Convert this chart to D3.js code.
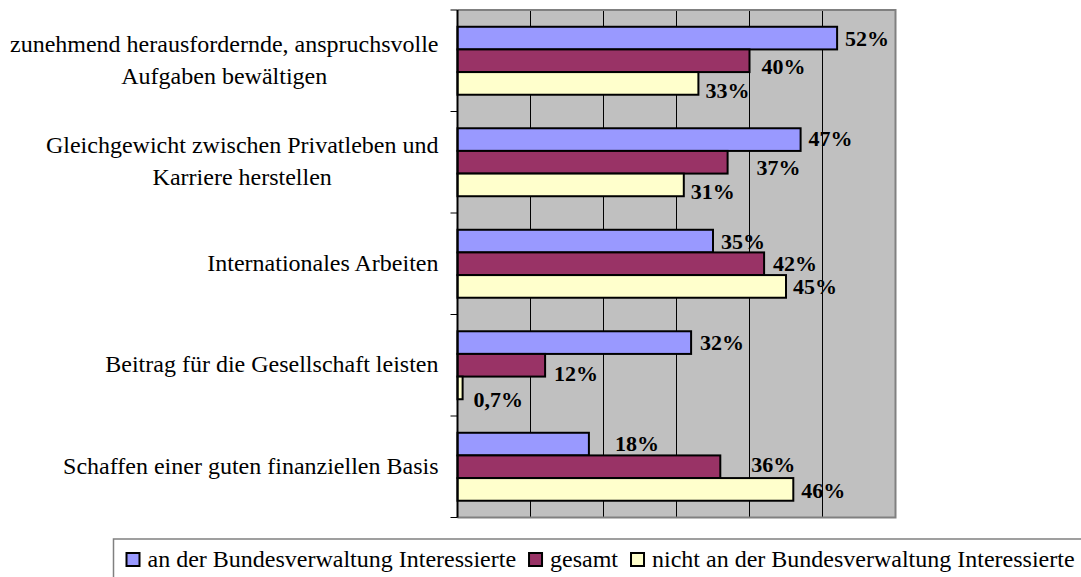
<!DOCTYPE html>
<html>
<head>
<meta charset="utf-8">
<script src="https://cdn.jsdelivr.net/npm/d3@7"></script>
<style>
  html, body { margin: 0; padding: 0; background: #ffffff; }
  svg { display: block; }
  svg text { font-family: "Liberation Serif", Tinos, "Times New Roman", Times, "DejaVu Serif", serif; }
</style>
</head>
<body>
<svg id="chart" width="1081" height="577"></svg>
<script>
// ---- data ----
const categories = [
  "zunehmend herausfordernde, anspruchsvolle\nAufgaben bewältigen",
  "Gleichgewicht zwischen Privatleben und\nKarriere herstellen",
  "Internationales Arbeiten",
  "Beitrag für die Gesellschaft leisten",
  "Schaffen einer guten finanziellen Basis"
];
const seriesNames = [
  "an der Bundesverwaltung Interessierte",
  "gesamt",
  "nicht an der Bundesverwaltung Interessierte"
];
const interessierte = [52, 47, 35, 32, 18];
const gesamt = [40, 37, 42, 12, 36];
const nichtInteressierte = [33, 31, 45, 0.7, 46];
const gridTicks = [10, 20, 30, 40, 50];

// ---- layout / style (not data) ----
const seriesColors = ["#9999FF", "#993366", "#FFFFCC"];
// label nudges [dx, dy] per category, per series (Excel label placement)
const labelNudge = [
  [[8, 0], [12, 6], [7, 7]],
  [[8, -1], [29, 5], [7, 6]],
  [[8, 0], [9, 0], [7, 0]],
  [[9, 0], [9, 8], [11, 11]],
  [[26, -1], [31, -2], [8, 1]]
];

const seriesValues = [interessierte, gesamt, nichtInteressierte];
const svg = d3.select("#chart");

const plot = { left: 457.5, right: 895.5, top: 10, bottom: 517.5 };

const x = d3.scaleLinear().domain([0, 60]).range([plot.left, plot.right]);
const y0 = d3.scaleBand().domain(d3.range(categories.length))
  .range([plot.top, plot.bottom]).paddingInner(0).paddingOuter(0);
const y1 = d3.scaleBand().domain(d3.range(seriesNames.length))
  .range([0, y0.bandwidth()]).paddingInner(0).paddingOuter(0.74);

// plot background
svg.append("rect")
  .attr("x", plot.left).attr("y", plot.top)
  .attr("width", plot.right - plot.left).attr("height", plot.bottom - plot.top)
  .attr("fill", "#C0C0C0");

// gridlines
svg.append("g").selectAll("line").data(gridTicks).join("line")
  .attr("x1", d => x(d)).attr("x2", d => x(d))
  .attr("y1", plot.top).attr("y2", plot.bottom)
  .attr("stroke", "#000").attr("stroke-width", 1);

// plot border (top, right, bottom)
svg.append("path")
  .attr("d", `M${plot.left},${plot.top}H${plot.right}V${plot.bottom}H${plot.left}`)
  .attr("fill", "none").attr("stroke", "#808080").attr("stroke-width", 2);

// bars
const fmt = d3.formatLocale({ decimal: ",", thousands: ".", grouping: [3], currency: ["", "€"] }).format(".2~r");
const groups = svg.append("g").selectAll("g").data(categories).join("g")
  .attr("transform", (d, i) => `translate(0,${y0(i)})`);

groups.each(function(c, ci) {
  const g = d3.select(this);
  const vals = seriesValues.map((s, si) => ({ si, v: s[ci] }));
  g.selectAll("rect").data(vals).join("rect")
    .attr("x", x(0))
    .attr("y", d => y1(d.si))
    .attr("width", d => x(d.v) - x(0))
    .attr("height", y1.bandwidth())
    .attr("fill", d => seriesColors[d.si])
    .attr("stroke", "#000").attr("stroke-width", 2);
  g.selectAll("text").data(vals).join("text")
    .attr("x", d => x(d.v) + labelNudge[ci][d.si][0])
    .attr("y", d => y1(d.si) + y1.bandwidth() / 2 + labelNudge[ci][d.si][1])
    .attr("dy", "0.35em")
    .attr("font-size", 22).attr("font-weight", "bold")
    .attr("fill", "#000")
    .text(d => fmt(d.v) + "%");
});

// value axis line + ticks
svg.append("line")
  .attr("x1", plot.left).attr("x2", plot.left)
  .attr("y1", plot.top).attr("y2", plot.bottom)
  .attr("stroke", "#000").attr("stroke-width", 2);
const tickYs = d3.range(categories.length).map(i => y0(i)).concat([plot.bottom]);
svg.append("g").selectAll("line").data(tickYs).join("line")
  .attr("x1", plot.left - 7).attr("x2", plot.left)
  .attr("y1", d => d).attr("y2", d => d)
  .attr("stroke", "#000").attr("stroke-width", 1);

// category labels
const labelRight = 438.5;
const lineH = 31.6;
categories.forEach((c, ci) => {
  const lines = c.split("\n");
  const cy = y0(ci) + y0.bandwidth() / 2;
  const t = svg.append("text")
    .attr("font-size", 24).attr("fill", "#000")
    .attr("text-anchor", "middle");
  const first = cy + 7 - (lines.length - 1) * lineH / 2;
  const spans = lines.map((ln, li) => t.append("tspan").attr("y", first + li * lineH).text(ln));
  const maxW = d3.max(spans, s => s.node().getComputedTextLength());
  spans.forEach(s => s.attr("x", labelRight - maxW / 2));
});

// legend
const legend = svg.append("g");
legend.append("rect")
  .attr("x", 113.5).attr("y", 539).attr("width", 1000).attr("height", 60)
  .attr("fill", "#fff").attr("stroke", "#808080").attr("stroke-width", 1.5);
let lx = 125.5;
seriesNames.forEach((name, si) => {
  legend.append("rect")
    .attr("x", lx + 1).attr("y", 553).attr("width", 13).attr("height", 13)
    .attr("fill", seriesColors[si]).attr("stroke", "#000").attr("stroke-width", 2);
  const t = legend.append("text")
    .attr("x", lx + 22).attr("y", 567)
    .attr("font-size", 24).attr("fill", "#000")
    .text(name);
  lx = lx + 22 + t.node().getComputedTextLength() + 12;
});
</script>
</body>
</html>
